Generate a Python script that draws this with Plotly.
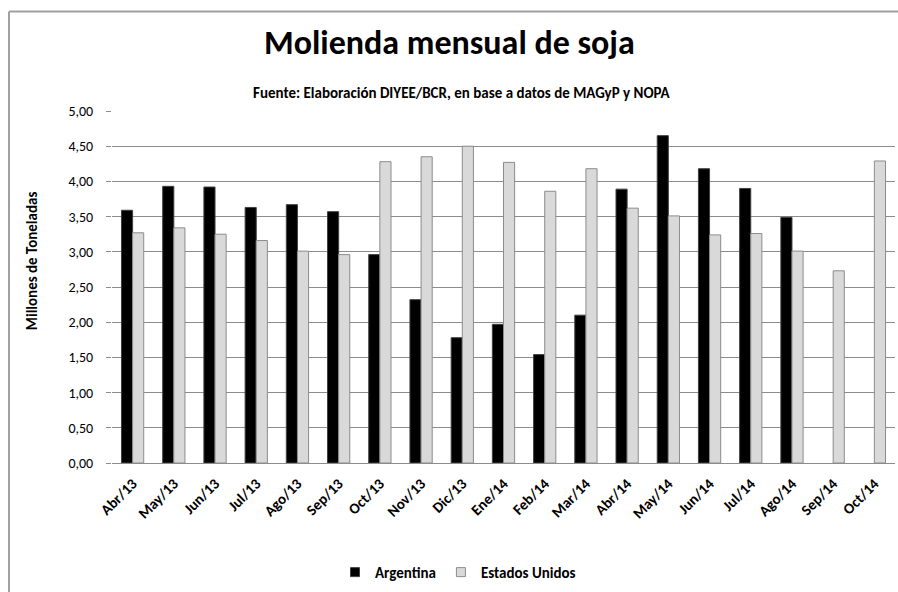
import plotly.graph_objects as go

months = ["Abr/13", "May/13", "Jun/13", "Jul/13", "Ago/13", "Sep/13", "Oct/13",
          "Nov/13", "Dic/13", "Ene/14", "Feb/14", "Mar/14", "Abr/14", "May/14",
          "Jun/14", "Jul/14", "Ago/14", "Sep/14", "Oct/14"]
argentina = [3.59, 3.93, 3.92, 3.63, 3.67, 3.57, 2.96, 2.32, 1.78, 1.97, 1.54,
             2.10, 3.89, 4.65, 4.18, 3.90, 3.49, None, None]
estados_unidos = [3.27, 3.34, 3.25, 3.16, 3.01, 2.96, 4.28, 4.35, 4.50, 4.27,
                  3.86, 4.18, 3.62, 3.51, 3.24, 3.26, 3.01, 2.73, 4.29]
y_ticks = [0, 0.5, 1, 1.5, 2, 2.5, 3, 3.5, 4, 4.5, 5]
series_names = ["Argentina", "Estados Unidos"]
fills = ["#000000", "#d9d9d9"]
edges = ["#404040", "#8c8c8c"]

W, H = 898, 592
ML, MR, MT, MB = 112, 3, 111, 127
FONT = "Carlito, Lato, 'Liberation Sans', sans-serif"

fig = go.Figure()
for name, vals, fc, ec in zip(series_names, [argentina, estados_unidos], fills, edges):
    fig.add_trace(go.Bar(name=name, x=months, y=vals, showlegend=False,
                         marker=dict(color=fc, line=dict(color=ec, width=1))))
# legend entries (small square keys, as in the original)
for name, fc, ec in zip(series_names, fills, edges):
    fig.add_trace(go.Scatter(name="<b>" + name + "</b>", x=[None], y=[None],
                             mode="markers", showlegend=True,
                             marker=dict(symbol="square", size=9, color=fc,
                                         line=dict(color=ec, width=1))))

pw = W - ML - MR
ph = H - MT - MB

def px_x(p):
    return (p - ML) / pw

def px_y(p):
    return (H - MB - p) / ph

fig.update_layout(
    width=W, height=H,
    margin=dict(l=ML, r=MR, t=MT, b=MB),
    paper_bgcolor="white", plot_bgcolor="white",
    barmode="group", bargap=0.46, bargroupgap=0,
    separators=",.",
    font=dict(family=FONT, color="#000000", size=12),
    showlegend=True,
    legend=dict(orientation="h", x=px_x(458), xanchor="center", y=px_y(575),
                yanchor="middle", font=dict(size=15, family=FONT),
                itemwidth=30, bgcolor="rgba(0,0,0,0)"),
    xaxis=dict(tickangle=-45, showgrid=False, showline=True, linecolor="#8c8c8c",
               linewidth=1, ticks="", tickfont=dict(size=15, family=FONT),
               tickprefix="<b>", ticksuffix="</b>", ticklabelstandoff=5,
               fixedrange=True),
    yaxis=dict(range=[0, 5], tickvals=y_ticks, tickformat=".2f",
               showgrid=True, gridcolor="#8c8c8c", gridwidth=1,
               ticks="outside", ticklen=5, tickcolor="#8c8c8c",
               showline=False, zeroline=False,
               tickfont=dict(size=14, family=FONT),
               tickprefix="<b>", ticksuffix="</b>", ticklabelstandoff=10,
               fixedrange=True),
    annotations=[
        dict(text="<b>Molienda mensual de soja</b>", xref="paper", yref="paper",
             x=px_x(449), y=px_y(42), xanchor="center", yanchor="middle",
             showarrow=False, font=dict(size=34, family=FONT, color="#000000")),
        dict(text="<b>Fuente: Elaboración DIYEE/BCR, en base a datos de MAGyP y NOPA</b>",
             xref="paper", yref="paper", x=px_x(462), y=px_y(93),
             xanchor="center", yanchor="middle", showarrow=False,
             font=dict(size=15, family=FONT, color="#000000")),
        dict(text="<b>Millones de Toneladas</b>", xref="paper", yref="paper",
             x=px_x(32), y=px_y(262), xanchor="center", yanchor="middle",
             textangle=-90, showarrow=False,
             font=dict(size=15, family=FONT, color="#000000")),
    ],
    shapes=[
        dict(type="line", xref="paper", yref="paper", x0=px_x(9), x1=px_x(900),
             y0=px_y(11), y1=px_y(11), line=dict(color="#a0a0a0", width=2)),
        dict(type="line", xref="paper", yref="paper", x0=px_x(9), x1=px_x(9),
             y0=px_y(11), y1=px_y(600), line=dict(color="#a0a0a0", width=2)),
    ],
)

fig.write_html("out.html", config={"displayModeBar": False},
               post_script="document.body.style.margin='0';")
